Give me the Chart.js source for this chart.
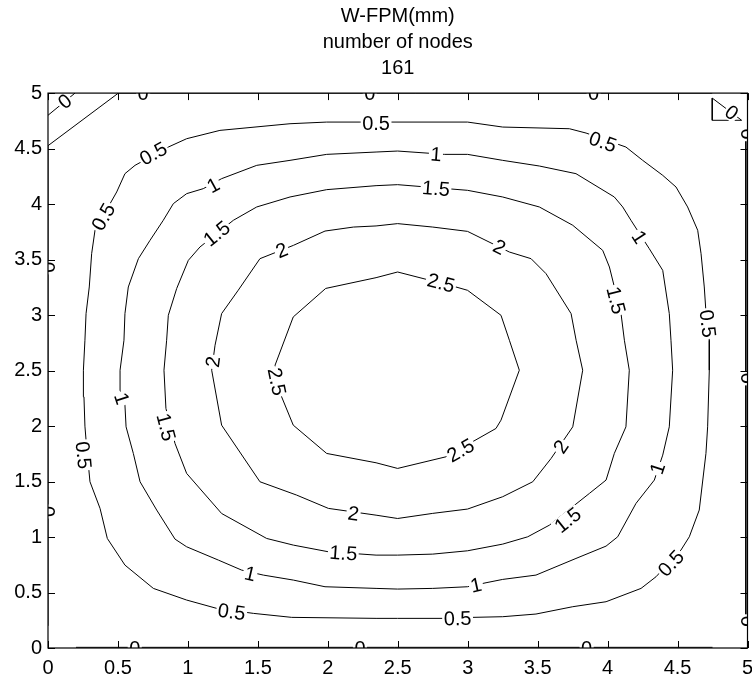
<!DOCTYPE html>
<html>
<head>
<meta charset="utf-8">
<script src="https://cdn.jsdelivr.net/npm/chart.js@4.4.0/dist/chart.umd.min.js"></script>
<style>
  html, body { margin: 0; padding: 0; background: #fff; }
</style>
</head>
<body>
<canvas id="myChart" width="752" height="679"></canvas>
<script>
// W-FPM deflection contours, one [x, y] path per level
const contour05 = [[2.499,0.267],[2.345,0.267],[1.742,0.276],[1.468,0.312],[1.206,0.357],[0.991,0.432],[0.753,0.537],[0.550,0.747],[0.424,0.987],[0.372,1.258],[0.300,1.498],[0.272,1.873],[0.264,1.999],[0.257,2.263],[0.253,2.503],[0.264,2.773],[0.272,3.013],[0.295,3.253],[0.312,3.553],[0.336,3.764],[0.491,4.109],[0.550,4.274],[0.622,4.349],[0.860,4.514],[0.991,4.589],[1.229,4.664],[1.730,4.724],[1.992,4.739],[2.230,4.739],[2.452,4.739],[2.999,4.739],[3.250,4.694],[3.727,4.679],[3.846,4.640],[4.131,4.514],[4.251,4.394],[4.394,4.259],[4.489,4.154],[4.572,3.974],[4.644,3.764],[4.668,3.553],[4.691,3.253],[4.703,3.028],[4.727,2.773],[4.727,2.503],[4.715,1.993],[4.703,1.753],[4.655,1.243],[4.584,1.002],[4.524,0.882],[4.346,0.642],[4.239,0.537],[3.989,0.417],[3.751,0.372],[3.488,0.306],[3.250,0.282],[3.035,0.276],[2.821,0.267],[2.499,0.267]];
const contour1 = [[2.499,0.531],[2.345,0.537],[1.980,0.552],[1.754,0.612],[1.539,0.657],[1.384,0.702],[1.218,0.792],[0.991,0.912],[0.908,0.981],[0.777,1.243],[0.658,1.498],[0.610,1.753],[0.558,1.993],[0.550,2.188],[0.515,2.323],[0.515,2.503],[0.543,2.773],[0.550,3.013],[0.574,3.253],[0.646,3.508],[0.729,3.673],[0.824,3.854],[0.896,4.004],[0.991,4.094],[1.110,4.139],[1.241,4.229],[1.492,4.349],[1.730,4.394],[1.992,4.448],[2.345,4.469],[2.499,4.478],[2.702,4.460],[2.833,4.448],[2.999,4.448],[3.250,4.394],[3.512,4.343],[3.774,4.274],[4.048,4.064],[4.108,3.974],[4.167,3.854],[4.298,3.598],[4.394,3.403],[4.441,3.013],[4.453,2.773],[4.465,2.503],[4.441,1.993],[4.394,1.738],[4.334,1.513],[4.203,1.303],[4.072,1.002],[3.989,0.918],[3.774,0.807],[3.488,0.657],[3.250,0.618],[3.131,0.588],[2.999,0.552],[2.750,0.537],[2.499,0.531]];
const contour15 = [[2.499,0.837],[2.345,0.837],[2.004,0.867],[1.754,0.927],[1.563,0.987],[1.241,1.212],[0.991,1.573],[0.908,1.843],[0.843,2.158],[0.829,2.503],[0.848,2.773],[0.860,2.998],[0.920,3.240],[1.003,3.493],[1.086,3.613],[1.325,3.854],[1.492,3.974],[1.730,4.064],[1.992,4.130],[2.345,4.166],[2.499,4.175],[2.999,4.124],[3.250,4.064],[3.512,3.974],[3.751,3.809],[3.965,3.583],[4.013,3.433],[4.096,3.013],[4.120,2.773],[4.155,2.503],[4.131,1.993],[4.048,1.753],[3.989,1.513],[3.870,1.393],[3.584,1.107],[3.429,1.002],[3.250,0.936],[2.999,0.876],[2.750,0.846],[2.499,0.837]];
const contour2 = [[2.499,1.167],[2.345,1.197],[2.004,1.258],[1.777,1.378],[1.515,1.498],[1.241,2.008],[1.170,2.503],[1.194,2.728],[1.241,3.013],[1.360,3.224],[1.515,3.508],[1.754,3.628],[1.980,3.757],[2.183,3.793],[2.345,3.803],[2.499,3.824],[2.750,3.793],[2.999,3.754],[3.298,3.568],[3.453,3.508],[3.560,3.373],[3.739,3.013],[3.775,2.773],[3.822,2.503],[3.751,1.993],[3.596,1.708],[3.465,1.498],[3.250,1.363],[2.999,1.252],[2.750,1.213],[2.499,1.167]];
const contour25 = [[2.499,1.618],[2.345,1.669],[1.992,1.753],[1.753,2.008],[1.670,2.263],[1.623,2.548],[1.753,2.983],[1.985,3.240],[2.345,3.337],[2.499,3.388],[2.916,3.253],[2.999,3.223],[3.238,2.998],[3.298,2.773],[3.369,2.503],[3.238,2.053],[3.202,1.978],[2.845,1.723],[2.499,1.618]];

// zero level: corner pieces and the plate edges
const zeroCornerA = [[0,4.526],[0.503,5]];
const zeroCornerB = [[0,4.80],[0.193,5]];
const zeroTriangle = [[4.748,4.955],[4.748,4.755],[4.958,4.755],[4.748,4.955]];
const zeroTop = [[0.503,5],[4.748,5]];
const zeroRight = [[4.988,4.68],[4.988,0.19]];
const zeroBottom = [[4.75,0.006],[0.2,0.006]];
const zeroLeft = [[0,0.2],[0,4.526]];

// where the level values are written on the lines
const labels0 = [[0.12,4.925],[4.887,4.823],[0.68,5],[2.30,5],[3.90,5],[0.62,0],[2.23,0],[3.85,0],[0,3.43],[0,1.23],[5,4.63],[5,2.43],[5,0.24]];
const labels05 = [[1.313,0.325],[0.253,1.738],[0.396,3.884],[0.753,4.454],[2.345,4.724],[3.965,4.559],[4.715,2.923],[4.453,0.762],[2.928,0.265]];
const labels1 = [[1.444,0.668],[0.527,2.248],[1.182,4.169],[2.773,4.448],[4.227,3.703],[4.358,1.618],[3.059,0.565]];
const labels15 = [[2.111,0.855],[0.843,1.990],[1.206,3.733],[2.773,4.140],[4.060,3.133],[3.715,1.152]];
const labels2 = [[2.183,1.212],[1.180,2.578],[1.670,3.583],[3.226,3.613],[3.667,1.813]];
const labels25 = [[1.635,2.400],[2.809,3.290],[2.950,1.780]];

const xTicks = [0, 0.5, 1, 1.5, 2, 2.5, 3, 3.5, 4, 4.5, 5];
const yTicks = [0, 0.5, 1, 1.5, 2, 2.5, 3, 3.5, 4, 4.5, 5];
const titleLines = ['W-FPM(mm)', 'number of nodes', '161'];

const groups = [
  { text: '0', paths: [zeroCornerA, zeroCornerB, zeroTriangle, zeroTop, zeroRight, zeroBottom, zeroLeft], labels: labels0 },
  { text: '0.5', paths: [contour05], labels: labels05 },
  { text: '1', paths: [contour1], labels: labels1 },
  { text: '1.5', paths: [contour15], labels: labels15 },
  { text: '2', paths: [contour2], labels: labels2 },
  { text: '2.5', paths: [contour25], labels: labels25 }
];

const fontFamily = "'Liberation Sans', Arial, Helvetica, sans-serif";
Chart.defaults.font.family = fontFamily;
Chart.defaults.color = '#000';

// angle of the nearest path segment, kept readable (-90..90]
function lineAngle(px, py, paths, xs, ys) {
  let best = Infinity, ang = 0;
  paths.forEach(path => {
    for (let i = 0; i < path.length - 1; i++) {
      const ax = xs.getPixelForValue(path[i][0]), ay = ys.getPixelForValue(path[i][1]);
      const bx = xs.getPixelForValue(path[i + 1][0]), by = ys.getPixelForValue(path[i + 1][1]);
      const dx = bx - ax, dy = by - ay;
      const len2 = dx * dx + dy * dy || 1;
      let t = ((px - ax) * dx + (py - ay) * dy) / len2;
      t = Math.max(0, Math.min(1, t));
      const qx = ax + t * dx - px, qy = ay + t * dy - py;
      const d = qx * qx + qy * qy;
      if (d < best) { best = d; ang = Math.atan2(dy, dx); }
    }
  });
  if (ang > Math.PI / 2 + 1e-6) ang -= Math.PI;
  if (ang <= -Math.PI / 2 + 1e-6) ang += Math.PI;
  return ang;
}

const contourLabels = {
  id: 'contourLabels',
  afterDatasetsDraw(chart) {
    const { ctx, chartArea: a, scales: { x, y } } = chart;
    ctx.save();
    ctx.beginPath();
    ctx.rect(a.left, a.top, a.width, a.height);
    ctx.clip();
    ctx.font = '20px ' + fontFamily;
    ctx.textAlign = 'center';
    ctx.textBaseline = 'middle';
    groups.forEach(g => {
      const w = ctx.measureText(g.text).width + 3;
      g.labels.forEach(([lx, ly]) => {
        const px = x.getPixelForValue(lx), py = y.getPixelForValue(ly);
        const ang = lineAngle(px, py, g.paths, x, y);
        ctx.save();
        ctx.translate(px, py);
        ctx.rotate(ang);
        ctx.fillStyle = '#fff';
        ctx.fillRect(-w / 2, -8, w, 16);
        ctx.fillStyle = '#000';
        ctx.fillText(g.text, 0, 1);
        ctx.restore();
      });
    });
    ctx.restore();

    // box and inward ticks
    ctx.save();
    ctx.strokeStyle = '#000';
    ctx.lineWidth = 1.2;
    ctx.strokeRect(a.left, a.top, a.width, a.height);
    ctx.lineWidth = 1;
    ctx.beginPath();
    x.ticks.forEach(t => {
      const p = Math.round(x.getPixelForValue(t.value)) + 0.5;
      ctx.moveTo(p, a.bottom); ctx.lineTo(p, a.bottom - 7);
      ctx.moveTo(p, a.top); ctx.lineTo(p, a.top + 7);
    });
    y.ticks.forEach(t => {
      const p = Math.round(y.getPixelForValue(t.value)) + 0.5;
      ctx.moveTo(a.left, p); ctx.lineTo(a.left + 7, p);
      ctx.moveTo(a.right, p); ctx.lineTo(a.right - 7, p);
    });
    ctx.stroke();
    ctx.restore();
  }
};

const datasets = [];
groups.forEach(g => {
  g.paths.forEach(p => {
    datasets.push({
      label: g.text,
      data: p.map(([px, py]) => ({ x: px, y: py })),
      showLine: true,
      borderColor: '#000',
      borderWidth: 1,
      pointRadius: 0,
      tension: 0,
      fill: false
    });
  });
});

var ctx = document.getElementById('myChart').getContext('2d');
var chart = new Chart(ctx, {
  type: 'scatter',
  data: { datasets: datasets },
  options: {
    responsive: false,
    animation: false,
    events: [],
    layout: { padding: { left: 0, right: 4.5, top: 0, bottom: 0 } },
    plugins: {
      legend: { display: false },
      tooltip: { enabled: false },
      title: {
        display: true,
        text: titleLines,
        fullSize: false,
        color: '#000',
        font: { size: 20, weight: 'normal', lineHeight: 1.29 },
        padding: { top: 4, bottom: 11.7 }
      }
    },
    scales: {
      x: {
        type: 'linear',
        min: 0,
        max: 5,
        afterBuildTicks: s => { s.ticks = xTicks.map(v => ({ value: v })); },
        ticks: { font: { size: 20 }, padding: 8, maxRotation: 0, callback: v => String(v) },
        grid: { display: false, drawTicks: false },
        border: { display: false },
        afterFit: s => { s.height = 31; s.paddingLeft = 0; s.paddingRight = 0; }
      },
      y: {
        type: 'linear',
        min: 0,
        max: 5,
        afterBuildTicks: s => { s.ticks = yTicks.map(v => ({ value: v })); },
        ticks: { font: { size: 20 }, padding: 6, callback: v => String(v) },
        grid: { display: false, drawTicks: false },
        border: { display: false },
        afterFit: s => { s.width = 48; s.paddingTop = 0; s.paddingBottom = 0; }
      }
    }
  },
  plugins: [contourLabels]
});
</script>
</body>
</html>
